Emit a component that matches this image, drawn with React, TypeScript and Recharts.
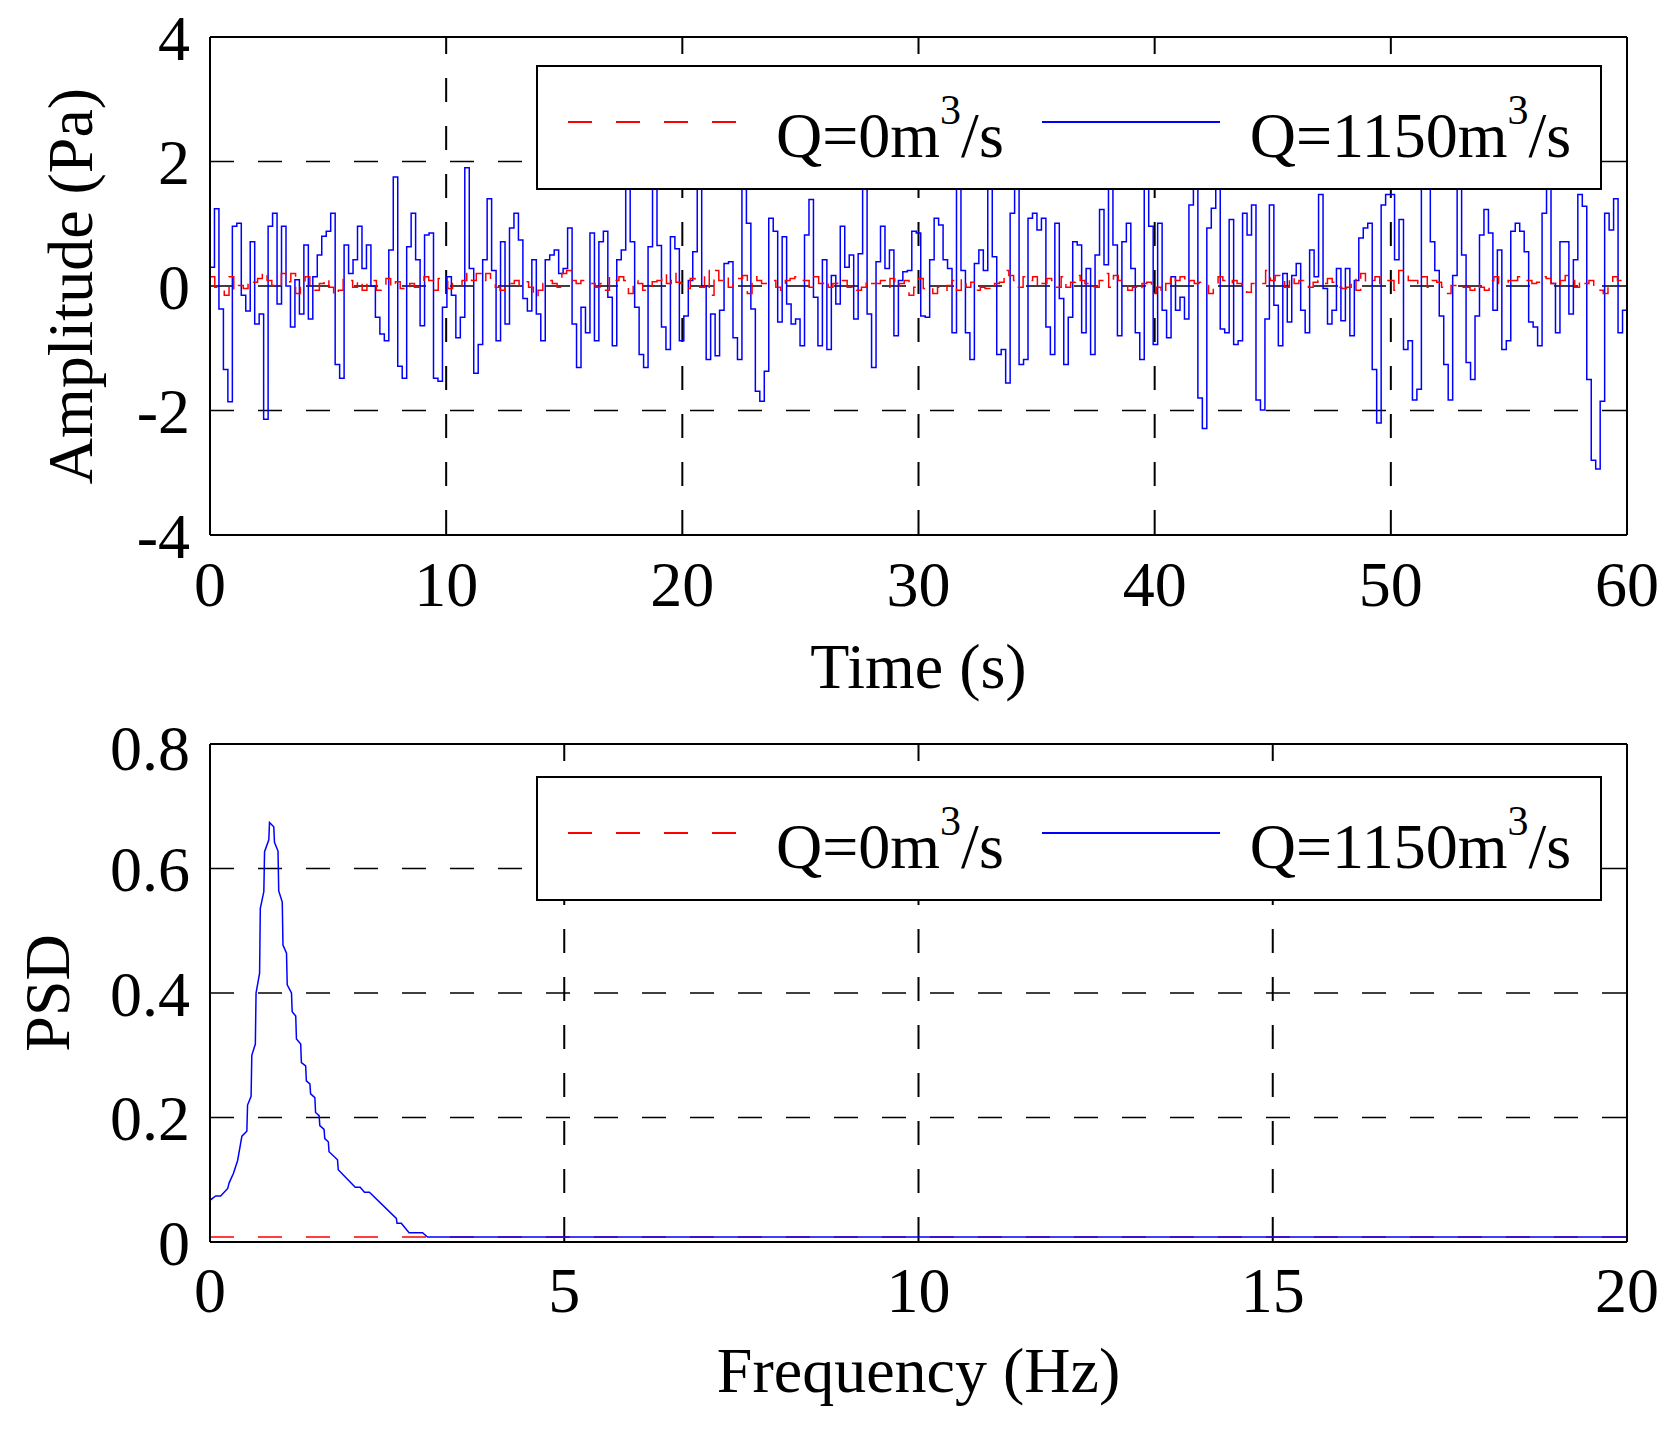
import React from "react";
import { LineChart, Line, XAxis, YAxis, CartesianGrid, Legend, Label } from "recharts";

const FONT = "'Liberation Serif', 'Times New Roman', Times, serif";

// axes
const timeTicks = [0, 10, 20, 30, 40, 50, 60];
const amplitudeTicks = [-4, -2, 0, 2, 4];
const frequencyTicks = [0, 5, 10, 15, 20];
const psdTicks = [0, 0.2, 0.4, 0.6, 0.8];

const RECORD_LENGTH = 60; // seconds

const seriesNames = ["Q=0m³/s", "Q=1150m³/s"];
const seriesColors = ["#ff0000", "#0000ff"];
const seriesDash = ["24 24", undefined];

// pressure amplitude (Pa), Q = 1150 m3/s
const amplitudeQ1150 = [
  0.30, 1.24, -0.37, -1.34, -1.86, 0.96, 1.01, -0.15, -0.40, 0.71,
  -0.61, -0.45, -2.14, 0.96, 1.17, -0.29, 0.96, 0.00, -0.66, 0.10,
  -0.45, 0.66, -0.53, 0.15, 0.50, 0.80, 0.88, 1.17, -1.26, -1.48,
  0.66, 0.20, 0.42, 0.96, 0.28, 0.66, 0.00, -0.50, -0.77, -0.88,
  0.58, 1.75, -1.29, -1.48, 0.63, 1.17, 0.42, -0.64, 0.82, 0.85,
  -1.48, -1.53, -0.34, 0.15, -0.15, -0.83, -0.50, 1.90, 0.28, -1.40,
  -0.94, 0.42, 1.40, 0.25, -0.88, 0.71, -0.61, 0.93, 1.17, 0.74,
  -0.20, -0.40, 0.42, -0.45, -0.88, 0.42, 0.50, 0.58, 0.20, 0.28,
  0.93, -0.61, -1.31, -0.34, -0.75, 0.85, -0.88, 0.71, 0.88, -0.18,
  -0.96, 0.42, 0.58, 1.65, 0.71, -0.34, -1.10, -1.31, 0.63, 1.65,
  0.65, -0.66, -1.02, 0.79, 0.60, -0.88, -0.48,
  0.09, 0.55, 1.70, 0.00, -1.18, -0.45, -1.12, -0.39, 0.36, 0.39,
  -0.83, -1.18, 1.70, 1.01, -0.37, -1.69, -1.85, -1.37, 1.09, 0.88,
  -0.58, 0.79, -0.29, -0.61, -0.53, -0.96, 0.82, 1.39, -0.18, -0.96,
  0.42, -1.02, 0.17, -0.29, 0.96, 0.30, 0.50, -0.53, 0.52, 1.70,
  -0.45, -1.31, 0.39, 0.96, 0.28, 0.58, -0.80, 0.09, 0.23, 0.25,
  0.88, 0.85, -0.48, -0.50, 0.42, 1.09, 0.98, 0.42, 0.28, -0.75,
  1.70, 0.25, -0.75, -1.18, 0.36, 0.58, 0.25, 1.70, 0.47, -1.10,
  -1.02, -1.56, 1.17, 1.70, -1.26, -1.18, 1.09, 1.17, 0.90, 1.09,
  -0.66, -1.10, 1.01, -0.20, -1.26, -0.50, 0.71, 0.66, -0.75, 0.28,
  -1.10, 0.50, 1.23, 0.34, 1.70, 0.66, -0.80, 0.71, 1.01, 0.28,
  -0.75, -1.18, 1.70, 0.96,
  -0.94, 1.01, -0.39, -0.83, 0.15, -0.39, -0.18, -0.53, 1.30, 1.70,
  -1.80, -2.29, 0.93, 1.25, 1.70, -0.69, -0.75, 1.07, -0.94, -0.88,
  1.17, 0.82, 1.30, -1.83, -1.99, -0.53, 1.30, -0.31, -0.96, 0.20,
  -0.58, 0.17, 0.36, -0.39, -0.75, 0.58, 0.15, 1.47, -0.04, -0.61,
  -0.39, 0.28, -0.56, 0.28, -0.80, 0.09, 0.77, 0.93, 1.01, -1.34,
  -2.20, 1.30, 1.47, 1.47, 0.42, 1.07, -1.02, -0.88, -1.83, -1.66,
  1.60, 1.70, 0.71, 0.25, -0.48, -1.26, -1.83, 0.17, 1.70, 0.50,
  -1.23, -1.50, -0.48, 0.82, 1.23, 0.85, -0.39, 0.58, -1.02, -0.88,
  0.88, 1.01, 0.88, 0.55, -0.58, -0.66, -0.96, 1.17, 1.70, 0.04,
  -0.75, 0.71, 0.71, -0.45, 0.42, 1.47, 1.28, -1.50, -2.80, -2.94,
  -1.85, 1.17, 0.90, 1.40, -0.75, -0.39, -0.02,
];

// pressure amplitude (Pa), Q = 0 m3/s
const amplitudeQ0 = [
  0.15, -0.02, -0.07, -0.15, 0.15, -0.07, 0.01, -0.04, 0.09, 0.06,
  0.12, 0.23, 0.09, 0.01, -0.02, 0.20, 0.07, 0.20, -0.12, 0.04,
  0.15, -0.02, -0.07, 0.04, 0.12, -0.02, -0.15, -0.07, 0.12, 0.09,
  -0.02, 0.09, -0.07, 0.09, 0.09, -0.07, -0.02, 0.12, -0.02, 0.07,
  -0.04, -0.07, 0.04, -0.02, 0.04, 0.15, 0.09, -0.07, 0.12, 0.09,
  -0.04, 0.04, 0.01, 0.09, 0.20, 0.09, 0.20, 0.09, 0.20, 0.09,
  -0.02, -0.07, -0.02, 0.04, 0.09, 0.01, 0.07, -0.02, -0.18, -0.07,
  0.04, 0.09, 0.04, -0.02, 0.20, 0.25, 0.09, 0.04, 0.09, 0.04,
  0.04, -0.02, 0.04, -0.07, 0.15, 0.09, 0.15, 0.09, -0.12, 0.09,
  0.04, -0.07, -0.02, 0.07, 0.09, 0.20, 0.04,
  0.20, 0.06, 0.04, -0.04, 0.12, 0.04, -0.02, 0.25, -0.15, 0.25,
  0.09, 0.15, -0.02, 0.09, 0.12, 0.17, -0.12, 0.15, 0.09, 0.04,
  0.06, 0.09, -0.02, -0.07, 0.09, 0.12, 0.15, 0.09, 0.09, -0.02,
  0.15, 0.04, 0.09, -0.02, 0.04, 0.12, 0.09, -0.02, 0.01, -0.07,
  -0.02, 0.09, 0.04, 0.04, 0.09, -0.02, 0.12, -0.02, 0.04, 0.09,
  -0.15, -0.02, 0.12, -0.04, -0.02, -0.12, -0.02, -0.07, 0.01, 0.09,
  -0.07, 0.12, -0.02, 0.06, -0.07, -0.02, -0.04, -0.07, 0.04, 0.06,
  0.25, 0.17, 0.09, -0.02, 0.15, 0.09, 0.15, -0.02, 0.04, 0.12,
  0.09, -0.02, 0.15, -0.02, 0.06, 0.17, 0.09, 0.04, 0.06, -0.02,
  0.09, 0.20, -0.02, 0.17, 0.09, 0.04, -0.07, -0.02, -0.07, 0.04,
  0.06, -0.12,
  -0.02, -0.12, 0.04, 0.17, 0.09, 0.15, 0.04, 0.09, 0.04, 0.06,
  0.01, -0.12, -0.02, 0.15, 0.09, 0.04, 0.09, 0.04, -0.02, -0.10,
  0.04, 0.06, 0.04, 0.25, 0.09, 0.17, 0.09, -0.02, 0.15, 0.04,
  0.09, 0.04, -0.02, 0.06, 0.09, 0.04, 0.12, 0.06, -0.02, -0.04,
  -0.02, 0.12, -0.07, 0.20, 0.06, 0.09, 0.15, 0.04, 0.09, 0.09,
  -0.07, 0.25, 0.17, 0.09, 0.09, 0.04, 0.15, -0.02, 0.09, 0.06,
  -0.02, -0.12, 0.01, -0.04, -0.02, -0.02, -0.07, 0.04, -0.02, -0.07,
  0.09, 0.15, 0.04, 0.06, 0.09, 0.09, 0.15, 0.12, 0.09, 0.04,
  0.06, 0.15, 0.12, 0.04, -0.02, 0.09, 0.17, 0.09, -0.02, 0.09,
  0.04, 0.09, -0.02, -0.07, -0.12, 0.04, 0.15, 0.09, 0.09, -0.02,
];

// power spectral density
const psdFrequencyQ1150 = [
  0, 0.08, 0.15, 0.25, 0.27, 0.33, 0.39, 0.45, 0.52, 0.53,
  0.58, 0.59, 0.64, 0.65, 0.7, 0.71, 0.76, 0.77, 0.83, 0.84,
  0.9, 0.91, 0.96, 0.97, 1.02, 1.03, 1.08, 1.09, 1.15, 1.16,
  1.21, 1.22, 1.28, 1.29, 1.35, 1.36, 1.41, 1.42, 1.48, 1.49,
  1.54, 1.55, 1.61, 1.62, 1.67, 1.68, 1.8, 1.81, 2.05, 2.12,
  2.18, 2.25, 2.63, 2.64, 2.7, 2.81, 3.0, 3.07, 20,
];
const psdQ1150 = [
  0.067, 0.074, 0.074, 0.086, 0.095, 0.11, 0.131, 0.17, 0.178, 0.22,
  0.234, 0.3, 0.318, 0.4, 0.432, 0.536, 0.563, 0.627, 0.646, 0.674,
  0.667, 0.642, 0.628, 0.564, 0.546, 0.477, 0.464, 0.413, 0.4, 0.37,
  0.363, 0.326, 0.318, 0.288, 0.283, 0.259, 0.254, 0.238, 0.232, 0.208,
  0.203, 0.187, 0.181, 0.166, 0.161, 0.145, 0.132, 0.116, 0.088, 0.088,
  0.08, 0.08, 0.038, 0.03, 0.03, 0.015, 0.015, 0.008, 0.008,
];
const psdFrequencyQ0 = [0, 2, 4, 6, 8, 10, 12, 14, 16, 18, 20];
const psdQ0 = [0.008, 0.008, 0.008, 0.008, 0.008, 0.008, 0.008, 0.008, 0.008, 0.008, 0.008];

const toTimeRows = (values: number[]) =>
  values.map((v, i) => ({ t: (i * RECORD_LENGTH) / (values.length - 1), v }));
const toFreqRows = (freqs: number[], values: number[]) =>
  freqs.map((f, i) => ({ f, p: values[i] }));

const rowsQ0 = toTimeRows(amplitudeQ0);
const rowsQ1150 = toTimeRows(amplitudeQ1150);
const psdRowsQ0 = toFreqRows(psdFrequencyQ0, psdQ0);
const psdRowsQ1150 = toFreqRows(psdFrequencyQ1150, psdQ1150);

const tickStyle = { fill: "#000", fontSize: 64, fontFamily: FONT };
const frame = { stroke: "#000", strokeWidth: 2 };

function LegendBox({ payload }: any) {
  const entries = seriesNames
    .map((name) => (payload || []).find((p: any) => p.value === name))
    .filter(Boolean);
  return (
    <div
      style={{
        boxSizing: "border-box",
        width: "100%",
        height: "100%",
        border: "2px solid #000",
        background: "#fff",
        display: "flex",
        paddingLeft: 30,
        fontFamily: FONT,
        fontSize: 64,
        color: "#000",
      }}
    >
      {entries.map((entry: any) => {
        const [base, rest] = String(entry.value).split("³");
        const idx = seriesNames.indexOf(entry.value);
        return (
          <div key={entry.value} style={{ display: "flex", alignItems: "flex-start", marginRight: 38 }}>
            <svg width={178} height={4} style={{ marginTop: 53, marginRight: 30, flex: "none" }}>
              <line x1={0} y1={2} x2={178} y2={2} stroke={entry.color} strokeWidth={2} strokeDasharray={seriesDash[idx]} />
            </svg>
            <span style={{ marginTop: 37, lineHeight: "64px", whiteSpace: "nowrap" }}>
              {base}
              <span style={{ fontSize: 42, position: "relative", top: -33 }}>3</span>
              {rest}
            </span>
          </div>
        );
      })}
    </div>
  );
}

function TimeChart() {
  return (
    <LineChart width={1673} height={710} margin={{ top: 36, right: 45, bottom: 0, left: 0 }}>
      <CartesianGrid vertical={false} stroke="#000" strokeWidth={1.5} strokeDasharray="24 24" />
      <CartesianGrid horizontal={false} stroke="#000" strokeWidth={2} strokeDasharray="24 24" strokeDashoffset={7} />
      <XAxis
        dataKey="t"
        type="number"
        domain={[0, 60]}
        ticks={timeTicks}
        height={175}
        tickLine={false}
        tickSize={0}
        tickMargin={26}
        axisLine={frame}
        tick={tickStyle}
        allowDataOverflow
      >
        <Label value="Time (s)" position="insideBottom" offset={22} fill="#000" fontSize={64} fontFamily={FONT} />
      </XAxis>
      <XAxis xAxisId="top" orientation="top" type="number" domain={[0, 60]} ticks={timeTicks} height={1} tick={false} tickLine={false} axisLine={frame} />
      <YAxis
        type="number"
        domain={[-4, 4]}
        ticks={amplitudeTicks}
        width={210}
        tickLine={false}
        tickSize={0}
        tickMargin={20}
        axisLine={frame}
        tick={tickStyle}
        allowDataOverflow
      >
        <Label
          value="Amplitude (Pa)"
          angle={-90}
          position="insideLeft"
          offset={69}
          fill="#000"
          fontSize={64}
          fontFamily={FONT}
          style={{ textAnchor: "middle" }}
        />
      </YAxis>
      <YAxis yAxisId="right" orientation="right" type="number" domain={[-4, 4]} ticks={amplitudeTicks} width={1} tick={false} tickLine={false} axisLine={frame} />
      <Line
        data={rowsQ1150}
        dataKey="v"
        name={seriesNames[1]}
        type="stepAfter"
        stroke={seriesColors[1]}
        strokeWidth={1.5}
        dot={false}
        isAnimationActive={false}
      />
      <Line
        data={rowsQ0}
        dataKey="v"
        name={seriesNames[0]}
        type="stepAfter"
        stroke={seriesColors[0]}
        strokeWidth={1.5}
        strokeDasharray="18 10"
        dot={false}
        isAnimationActive={false}
      />
      <Legend
        layout="vertical"
        align="center"
        verticalAlign="middle"
        content={LegendBox}
        wrapperStyle={{ left: 536, top: 65, width: 1066, height: 125 }}
      />
    </LineChart>
  );
}

function PsdChart() {
  return (
    <LineChart width={1673} height={720} margin={{ top: 33, right: 45, bottom: 0, left: 0 }}>
      <CartesianGrid vertical={false} stroke="#000" strokeWidth={1.5} strokeDasharray="24 24" />
      <CartesianGrid horizontal={false} stroke="#000" strokeWidth={2} strokeDasharray="24 24" strokeDashoffset={7} />
      <XAxis
        dataKey="f"
        type="number"
        domain={[0, 20]}
        ticks={frequencyTicks}
        height={188}
        tickLine={false}
        tickSize={0}
        tickMargin={25}
        axisLine={frame}
        tick={tickStyle}
        allowDataOverflow
      >
        <Label value="Frequency (Hz)" position="insideBottom" offset={38} fill="#000" fontSize={64} fontFamily={FONT} />
      </XAxis>
      <XAxis xAxisId="top" orientation="top" type="number" domain={[0, 20]} ticks={frequencyTicks} height={1} tick={false} tickLine={false} axisLine={frame} />
      <YAxis
        type="number"
        domain={[0, 0.8]}
        ticks={psdTicks}
        width={210}
        tickLine={false}
        tickSize={0}
        tickMargin={20}
        axisLine={frame}
        tick={tickStyle}
        allowDataOverflow
      >
        <Label
          value="PSD"
          angle={-90}
          position="insideLeft"
          offset={46}
          fill="#000"
          fontSize={64}
          fontFamily={FONT}
          style={{ textAnchor: "middle" }}
        />
      </YAxis>
      <YAxis yAxisId="right" orientation="right" type="number" domain={[0, 0.8]} ticks={psdTicks} width={1} tick={false} tickLine={false} axisLine={frame} />
      <Line
        data={psdRowsQ0}
        dataKey="p"
        name={seriesNames[0]}
        type="linear"
        stroke={seriesColors[0]}
        strokeWidth={1.5}
        strokeDasharray={seriesDash[0]}
        dot={false}
        isAnimationActive={false}
      />
      <Line
        data={psdRowsQ1150}
        dataKey="p"
        name={seriesNames[1]}
        type="linear"
        stroke={seriesColors[1]}
        strokeWidth={1.5}
        dot={false}
        isAnimationActive={false}
      />
      <Legend
        layout="vertical"
        align="center"
        verticalAlign="middle"
        content={LegendBox}
        wrapperStyle={{ left: 536, top: 66, width: 1066, height: 125 }}
      />
    </LineChart>
  );
}

export default function App() {
  return (
    <div style={{ position: "absolute", left: 0, top: 0, width: 1673, height: 1430, background: "#fff", fontFamily: FONT }}>
      <TimeChart />
      <PsdChart />
    </div>
  );
}
